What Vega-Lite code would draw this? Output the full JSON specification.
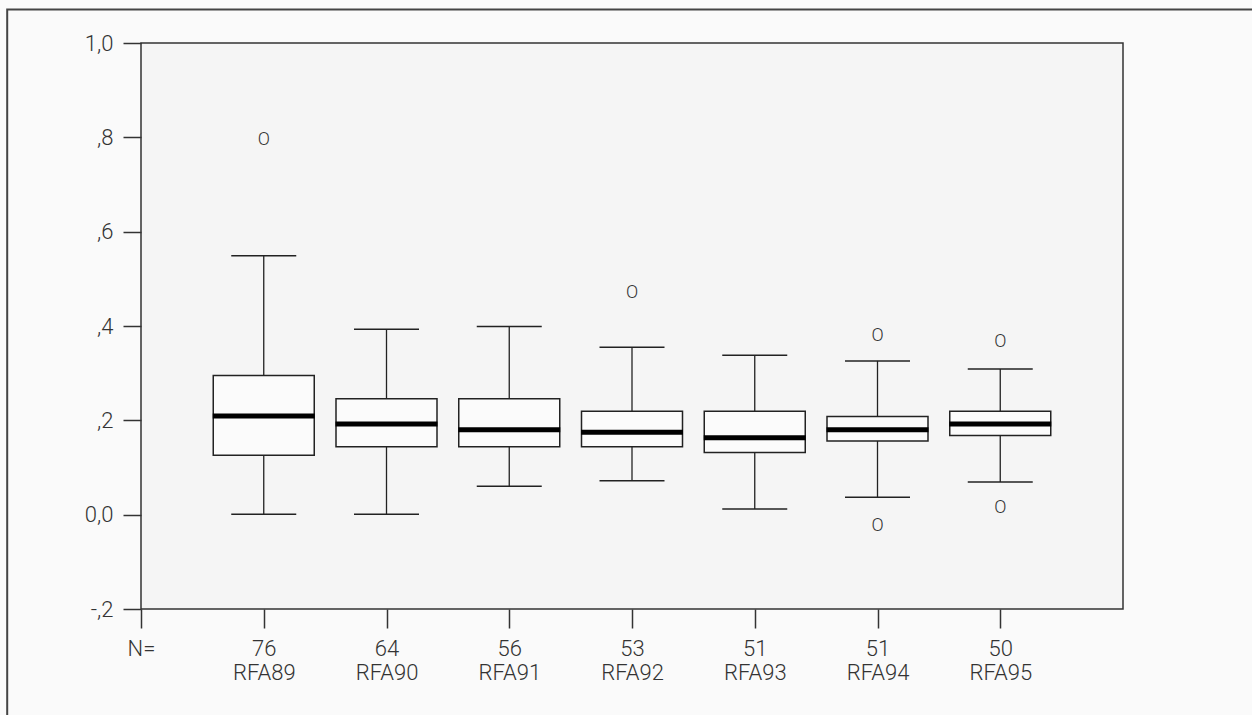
{
  "$schema": "https://vega.github.io/schema/vega-lite/v6.json",
  "width": 982,
  "height": 566,
  "autosize": {"type": "none"},
  "padding": {"left": 141, "top": 43, "right": 129, "bottom": 106},
  "background": "#fafafa",
  "datasets": {
    "boxes": [
      {"group": "RFA89", "pos": 1, "n": 76, "lower": 0.001, "q1": 0.126, "median": 0.209, "q3": 0.295, "upper": 0.549},
      {"group": "RFA90", "pos": 2, "n": 64, "lower": 0.001, "q1": 0.144, "median": 0.192, "q3": 0.246, "upper": 0.393},
      {"group": "RFA91", "pos": 3, "n": 56, "lower": 0.060, "q1": 0.144, "median": 0.180, "q3": 0.246, "upper": 0.399},
      {"group": "RFA92", "pos": 4, "n": 53, "lower": 0.072, "q1": 0.144, "median": 0.175, "q3": 0.219, "upper": 0.355},
      {"group": "RFA93", "pos": 5, "n": 51, "lower": 0.012, "q1": 0.132, "median": 0.163, "q3": 0.219, "upper": 0.338},
      {"group": "RFA94", "pos": 6, "n": 51, "lower": 0.037, "q1": 0.156, "median": 0.180, "q3": 0.208, "upper": 0.326},
      {"group": "RFA95", "pos": 7, "n": 50, "lower": 0.069, "q1": 0.168, "median": 0.192, "q3": 0.219, "upper": 0.309}
    ],
    "outliers": [
      {"group": "RFA89", "pos": 1, "value": 0.794},
      {"group": "RFA92", "pos": 4, "value": 0.471},
      {"group": "RFA94", "pos": 6, "value": 0.379},
      {"group": "RFA94", "pos": 6, "value": -0.025},
      {"group": "RFA95", "pos": 7, "value": 0.367},
      {"group": "RFA95", "pos": 7, "value": 0.015}
    ]
  },
  "encoding": {
    "x": {
      "type": "quantitative",
      "scale": {"domain": [0, 8], "nice": false, "zero": false, "padding": 0},
      "axis": {
        "values": [0, 1, 2, 3, 4, 5, 6, 7],
        "title": null, "grid": false, "domain": false,
        "tickSize": 19, "tickColor": "#333333", "tickWidth": 1.5,
        "labelPadding": 10, "labelFont": "Roboto", "labelFontSize": 22, "labelFontWeight": 300,
        "labelColor": "#333333", "labelLineHeight": 24, "labelFlush": false, "labelOverlap": false,
        "labelExpr": "['N=', ['76','RFA89'], ['64','RFA90'], ['56','RFA91'], ['53','RFA92'], ['51','RFA93'], ['51','RFA94'], ['50','RFA95']][datum.value]"
      }
    },
    "y": {
      "type": "quantitative",
      "scale": {"domain": [-0.2, 1.0], "nice": false, "zero": false, "padding": 0},
      "axis": {
        "values": [-0.2, 0, 0.2, 0.4, 0.6, 0.8, 1.0],
        "title": null, "grid": false, "domain": false,
        "tickSize": 18, "tickColor": "#333333", "tickWidth": 1.5,
        "labelPadding": 10, "labelFont": "Roboto", "labelFontSize": 22, "labelFontWeight": 300,
        "labelColor": "#333333", "labelFlush": false, "labelOverlap": false,
        "labelExpr": "datum.value == 0 ? '0,0' : datum.value == 1 ? '1,0' : datum.value < 0 ? '-,2' : ',' + format(datum.value * 10, 'd')"
      }
    }
  },
  "layer": [
    {
      "data": {"values": [{}]},
      "mark": {"type": "rect", "filled": false, "stroke": "#444444", "strokeWidth": 2, "clip": false},
      "encoding": {
        "x": {"datum": -1.09, "type": "quantitative"},
        "x2": {"datum": 9.6},
        "y": {"datum": 1.071, "type": "quantitative"},
        "y2": {"datum": -0.5}
      }
    },
    {
      "data": {"name": "boxes"},
      "mark": {"type": "rule", "color": "#222222", "strokeWidth": 1.3},
      "encoding": {
        "x": {"field": "pos", "type": "quantitative"},
        "y": {"field": "lower", "type": "quantitative"},
        "y2": {"field": "upper"}
      }
    },
    {
      "data": {"name": "boxes"},
      "mark": {"type": "tick", "orient": "horizontal", "size": 65, "thickness": 1.5, "color": "#222222", "opacity": 1},
      "encoding": {
        "x": {"field": "pos", "type": "quantitative"},
        "y": {"field": "lower", "type": "quantitative"}
      }
    },
    {
      "data": {"name": "boxes"},
      "mark": {"type": "tick", "orient": "horizontal", "size": 65, "thickness": 1.5, "color": "#222222", "opacity": 1},
      "encoding": {
        "x": {"field": "pos", "type": "quantitative"},
        "y": {"field": "upper", "type": "quantitative"}
      }
    },
    {
      "data": {"name": "boxes"},
      "mark": {"type": "bar", "size": 101, "fill": "#fbfbfb", "stroke": "#222222", "strokeWidth": 1.5, "opacity": 1},
      "encoding": {
        "x": {"field": "pos", "type": "quantitative"},
        "y": {"field": "q1", "type": "quantitative"},
        "y2": {"field": "q3"}
      }
    },
    {
      "data": {"name": "boxes"},
      "mark": {"type": "tick", "orient": "horizontal", "size": 102, "thickness": 5, "color": "#000000", "opacity": 1},
      "encoding": {
        "x": {"field": "pos", "type": "quantitative"},
        "y": {"field": "median", "type": "quantitative"}
      }
    },
    {
      "data": {"name": "outliers"},
      "mark": {"type": "text", "text": "O", "font": "Roboto", "fontSize": 18, "fontWeight": 300, "color": "#333333", "baseline": "middle", "align": "center"},
      "encoding": {
        "x": {"field": "pos", "type": "quantitative"},
        "y": {"field": "value", "type": "quantitative"}
      }
    }
  ],
  "config": {
    "view": {"stroke": "#333333", "strokeWidth": 1.5, "fill": "#f5f5f5"}
  }
}
